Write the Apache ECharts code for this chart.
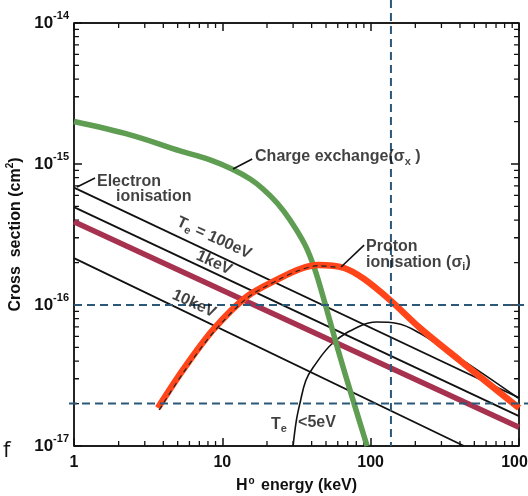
<!DOCTYPE html>
<html><head><meta charset="utf-8">
<script src="https://cdn.jsdelivr.net/npm/echarts@6/dist/echarts.min.js"></script>
<style>html,body{margin:0;padding:0;background:#fff}#c{width:528px;height:496px}</style>
</head><body><div id="c"></div>
<script>
// ---- data (H0 energy in keV, cross section in cm^2) ----
const chargeExE = [1, 2.39, 5.19, 8.26, 11.6, 15.4, 18.8, 23.4, 28.6, 36.1, 42.2, 49.3, 60.3, 74.9, 94.6];
const chargeExS = [2.0e-15, 1.61e-15, 1.24e-15, 1.07e-15, 9.22e-16, 7.83e-16, 6.65e-16, 5.29e-16, 4.01e-16, 2.67e-16, 1.77e-16, 1.02e-16, 4.8e-17, 2.23e-17, 1.0e-17];

const protonE = [3.68, 5.43, 8.65, 14.7, 24.5, 33.4, 44.2, 66.2, 90.2, 137, 215, 403, 1000];
const protonS = [1.86e-17, 3.46e-17, 6.65e-17, 1.15e-16, 1.55e-16, 1.8e-16, 1.92e-16, 1.83e-16, 1.53e-16, 1.07e-16, 6.87e-17, 4.01e-17, 1.86e-17];

const protonCalcE = [3.75, 5.5, 8.7, 14.7, 24.5, 33.4, 44.2, 60];
const protonCalcS = [1.8e-17, 3.35e-17, 6.4e-17, 1.12e-16, 1.53e-16, 1.77e-16, 1.9e-16, 1.85e-16];

const elec100eVE = [1, 1000];
const elec100eVS = [6.8e-16, 2.2e-17];
const elec1keVE = [1, 1000];
const elec1keVS = [4.95e-16, 1.63e-17];
const elecThickE = [1, 1000];
const elecThickS = [3.9e-16, 1.36e-17];
const elec10keVE = [1, 426];
const elec10keVS = [2.15e-16, 1.0e-17];

const elec5eVE = [30, 31.5, 33.4, 36.5, 40.9, 55.8, 84.9, 110, 151, 215, 343, 490, 986];
const elec5eVS = [1.0e-17, 1.5e-17, 2.02e-17, 2.9e-17, 3.6e-17, 5.4e-17, 7.1e-17, 7.57e-17, 7.4e-17, 6.3e-17, 4.57e-17, 3.63e-17, 2.19e-17];

const refEnergy = 137;          // vertical dashed line (keV)
const refSigmaHigh = 1e-16;     // horizontal dashed lines (cm^2)
const refSigmaLow = 2e-17;

// annotation anchors (data coordinates) and texts
const annotE = [16.62, 1.429, 1.92, 8.79, 8.79, 6.45, 93.1, 93.1, 21.3, 32.4];
const annotS = [1.12e-15, 7.45e-16, 5.83e-16, 2.99e-16, 1.99e-16, 1.02e-16, 2.58e-16, 1.99e-16, 1.43e-17, 1.46e-17];
const annotText = ['{a|Charge exchange(σ}{s|x}{a| )}', '{a|Electron}', '{a|ionisation}', '{a|T}{s|e}{a| = 100eV}', '{a|1keV}', '{a|10keV}',
                   '{a|Proton}', '{a|ionisation (σ}{s|i}{a|)}', '{a|T}{s|e}', '{a|<5eV}'];
const annotAlongLine = [false, false, false, true, true, true, false, false, false, false];
// leader lines (data coordinates)
const leaderChargeE = [11.8, 15.9],  leaderChargeS = [9.22e-16, 1.085e-15];
const leaderElecE = [1.048, 1.386],  leaderElecS = [6.87e-16, 7.96e-16];
const leaderProtE = [63.2, 90.3],    leaderProtS = [1.86e-16, 2.66e-16];

const xTicks = [1, 10, 100, 1000];
const xTickLabels = ['1', '10', '100', '1000'];
const yTicks = [1e-17, 1e-16, 1e-15, 1e-14];
const yTickExp = ['-17', '-16', '-15', '-14'];
const xMinor = [2,3,4,5,6,7,8,9,20,30,40,50,60,70,80,90,200,300,400,500,600,700,800,900];
const yMinor = [2e-17,3e-17,4e-17,5e-17,6e-17,7e-17,8e-17,9e-17,2e-16,3e-16,4e-16,5e-16,6e-16,7e-16,8e-16,9e-16,2e-15,3e-15,4e-15,5e-15,6e-15,7e-15,8e-15,9e-15];

const zip = (a, b) => a.map((v, i) => [v, b[i]]);
const FONT = 'Liberation Sans';
const DASH = '#2b5878';
const W = 528, H = 496;
const GRID = {left: 74, right: 9, top: 23, bottom: 50};
const XMIN = 1, XMAX = 1000, YMIN = 1e-17, YMAX = 1e-14;

// minor tick marks drawn as line series (spikes along each axis), lengths converted through the log scale
const pxDecX = (W - GRID.left - GRID.right) / Math.log10(XMAX / XMIN);
const pxDecY = (H - GRID.top - GRID.bottom) / Math.log10(YMAX / YMIN);
const fx = len => Math.pow(10, len / pxDecX);
const fy = len => Math.pow(10, len / pxDecY);
const bottomTicks = [[XMIN, YMIN]], topTicks = [[XMIN, YMAX]], leftTicks = [[XMIN, YMIN]], rightTicks = [[XMAX, YMIN]];
xMinor.forEach(v => {
  bottomTicks.push([v, YMIN], [v, YMIN * fy(5)], [v, YMIN]);
  topTicks.push([v, YMAX], [v, YMAX / fy(5)], [v, YMAX]);
});
yMinor.forEach(v => {
  leftTicks.push([XMIN, v], [XMIN * fx(5), v], [XMIN, v]);
  rightTicks.push([XMAX, v], [XMAX / fx(5), v], [XMAX, v]);
});
bottomTicks.push([XMAX, YMIN]); topTicks.push([XMAX, YMAX]); leftTicks.push([XMIN, YMAX]); rightTicks.push([XMAX, YMAX]);

const chart = echarts.init(document.getElementById('c'), null, {renderer: 'canvas'});

function line(name, E, S, color, width, extra) {
  return Object.assign({
    name, type: 'line', data: zip(E, S), symbol: 'none', showSymbol: false,
    lineStyle: {color, width}, silent: true, animation: false, clip: false
  }, extra || {});
}
function tickLine(name, pts) {
  return {name, type: 'line', data: pts, symbol: 'none', showSymbol: false, silent: true, animation: false, clip: false,
          z: 3, lineStyle: {color: '#111', width: 1.3, join: 'miter', cap: 'butt'}};
}
const axisLine = {show: true, onZero: false, lineStyle: {color: '#111', width: 1.5}};
const axisTick = {show: true, inside: true, length: 8, lineStyle: {color: '#111', width: 1.5}};
const RICH = {a: {fontFamily: FONT, fontWeight: 'bold', fontSize: 16, color: '#111'},
              s: {fontFamily: FONT, fontWeight: 'bold', fontSize: 11, color: '#111', padding: [9, 0, 0, 0]}};

const option = {
  animation: false,
  backgroundColor: '#fff',
  title: {text: 'f', left: 3, top: 440, padding: 0, textStyle: {fontFamily: 'Open Sans', fontWeight: 'normal', fontSize: 22, color: '#111'}},
  grid: Object.assign({containLabel: false, outerBoundsMode: 'none'}, GRID),
  xAxis: [{
    type: 'log', logBase: 10, min: XMIN, max: XMAX, position: 'bottom',
    axisLine, axisTick,
    name: '{a|H}{s|o}{a| energy (keV)}', nameLocation: 'middle', nameGap: 28,
    nameTextStyle: {rich: {a: RICH.a, s: {fontFamily: FONT, fontWeight: 'bold', fontSize: 10, color: '#111', padding: [0, 2, 10, 1]}}},
    axisLabel: {show: true, margin: 9, color: '#111', fontFamily: FONT, fontWeight: 'bold', fontSize: 16,
      formatter: v => { const i = xTicks.findIndex(t => Math.abs(t - v) / t < 1e-6); return i >= 0 ? xTickLabels[i] : ''; }},
    splitLine: {show: false}
  }, {
    type: 'log', logBase: 10, min: XMIN, max: XMAX, position: 'top',
    axisLine, axisTick, axisLabel: {show: false}, splitLine: {show: false}
  }],
  yAxis: [{
    type: 'log', logBase: 10, min: YMIN, max: YMAX, position: 'left',
    axisLine, axisTick,
    name: '{a|Cross  section (cm}{s|2}{a|)}', nameLocation: 'middle', nameGap: 37, nameRotate: 90,
    nameTextStyle: {rich: {a: RICH.a, s: {fontFamily: FONT, fontWeight: 'bold', fontSize: 10, color: '#111', padding: [0, 0, 10, 0]}}},
    axisLabel: {show: true, margin: 5, color: '#111', fontFamily: FONT, fontWeight: 'bold',
      formatter: v => { const i = yTicks.findIndex(t => Math.abs(t - v) / t < 1e-6); return i >= 0 ? '{b|10}{e|' + yTickExp[i] + '}' : ''; },
      rich: {b: {fontSize: 17, fontWeight: 'bold', fontFamily: FONT, color: '#111'},
             e: {fontSize: 11, fontWeight: 'bold', fontFamily: FONT, color: '#111', padding: [0, 0, 14, 0]}}},
    splitLine: {show: false}
  }, {
    type: 'log', logBase: 10, min: YMIN, max: YMAX, position: 'right',
    axisLine, axisTick, axisLabel: {show: false}, splitLine: {show: false}
  }],
  series: [
    tickLine('ticks bottom', bottomTicks),
    tickLine('ticks top', topTicks),
    tickLine('ticks left', leftTicks),
    tickLine('ticks right', rightTicks),
    line('Electron 10keV', elec10keVE, elec10keVS, '#111', 1.8),
    line('Electron 1keV', elec1keVE, elec1keVS, '#111', 1.8),
    line('Electron 100eV', elec100eVE, elec100eVS, '#111', 1.8),
    line('Electron <5eV', elec5eVE, elec5eVS, '#111', 1.6, {smooth: 0.4}),
    line('Electron thick', elecThickE, elecThickS, '#a63250', 5.5),
    line('Charge exchange', chargeExE, chargeExS, '#5e9d52', 5.5, {smooth: 0.35}),
    line('Proton ionisation', protonE, protonS, '#ff4519', 6.5, {smooth: 0.3}),
    line('Proton calc', protonCalcE, protonCalcS, '#222', 1.2, {smooth: 0.3, lineStyle: {color: '#222', width: 1.2, type: [5, 4]}}),
    line('leader charge', leaderChargeE, leaderChargeS, '#111', 1.6),
    line('leader electron', leaderElecE, leaderElecS, '#111', 1.6),
    line('leader proton', leaderProtE, leaderProtS, '#111', 1.6),
    {
      type: 'custom', name: 'reference lines', silent: true, clip: false, animation: false, z: 5,
      data: [[refEnergy, refSigmaHigh, refSigmaLow]],
      renderItem: (params, api) => {
        const pH = api.coord([api.value(0), api.value(1)]);
        const pL = api.coord([api.value(0), api.value(2)]);
        const cs = params.coordSys;
        const Wd = api.getWidth();
        const st = {stroke: DASH, lineWidth: 2, lineDash: [8, 5], fill: null};
        return {type: 'group', children: [
          {type: 'line', shape: {x1: cs.x, y1: pH[1], x2: Wd, y2: pH[1]}, style: st},
          {type: 'line', shape: {x1: cs.x - 5, y1: pL[1], x2: Wd, y2: pL[1]}, style: st},
          {type: 'line', shape: {x1: pH[0], y1: 0, x2: pH[0], y2: cs.y + cs.height}, style: st}
        ]};
      }
    },
    {
      type: 'scatter', name: 'annotations', silent: true, animation: false, symbolSize: 0, clip: false, z: 10,
      data: annotE.map((e, i) => ({
        value: [e, annotS[i]],
        label: annotAlongLine[i]
          ? {show: true, position: 'inside', rotate: -24.6, formatter: annotText[i], rich: RICH}
          : {show: true, position: 'right', distance: 0, align: 'left', verticalAlign: 'middle', formatter: annotText[i], rich: RICH}
      }))
    }
  ]
};
chart.setOption(option);
// second pass that re-renders the axis components (this reproduces the only run where axis ticks were visible)
try { chart.setOption({graphic: [{type: 'path', shape: {}}]}); } catch (err) { /* ignore */ }
</script></body></html>
